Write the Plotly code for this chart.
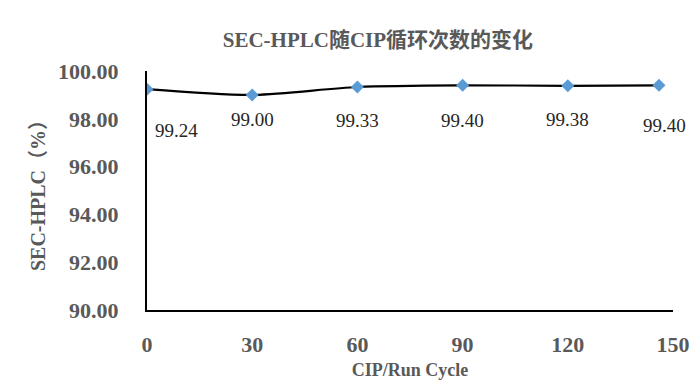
import plotly.graph_objects as go

cycles = [0, 30, 60, 90, 120, 146]
sec_hplc = [99.24, 99.00, 99.33, 99.40, 99.38, 99.40]
labels = ["99.24", "99.00", "99.33", "99.40", "99.38", "99.40"]
x_ticks = [0, 30, 60, 90, 120, 150]
y_ticks = [90, 92, 94, 96, 98, 100]

serif = "Liberation Serif"
title_font = "Liberation Serif, Noto Sans CJK SC"
gray = "#595959"

fig = go.Figure()
fig.add_trace(go.Scatter(
    x=cycles, y=sec_hplc, mode="lines+markers",
    line=dict(color="black", width=2.2, shape="spline", smoothing=0.8),
    marker=dict(symbol="diamond", size=10, color="#5B9BD5"),
    hoverinfo="skip", showlegend=False,
))

# label offsets (pixels) relative to each point, as placed in the original
label_dx = [29, 0, 0, 0, 0, 6]
label_dy = [-41, -25, -33, -35, -34, -40]
for xv, yv, t, dx, dy in zip(cycles, sec_hplc, labels, label_dx, label_dy):
    fig.add_annotation(x=xv, y=yv, text=t, showarrow=False,
                       xshift=dx, yshift=dy,
                       font=dict(family=serif, size=19, color="#262626"))

fig.update_layout(
    width=698, height=387,
    margin=dict(l=139, r=33, t=63, b=85, autoexpand=False),
    paper_bgcolor="white", plot_bgcolor="white",
    title=dict(text="<b>SEC-HPLC随CIP循环次数的变化</b>", x=0.53, xanchor="center",
               y=0.917, yanchor="middle",
               font=dict(family=title_font, size=21, color=gray)),
    xaxis=dict(range=[0, 150], tickvals=x_ticks, ticktext=[str(v) for v in x_ticks],
               automargin=False,
               showgrid=False, zeroline=False, showline=True, linecolor="black", linewidth=2.2,
               ticks="", ticklabelstandoff=13,
               tickfont=dict(family=serif, size=22, color=gray, weight="bold"),
               title=dict(text="<b>CIP/Run Cycle</b>", standoff=8,
                          font=dict(family=serif, size=18, color=gray))),
    yaxis=dict(range=[90, 100], tickvals=y_ticks, ticktext=[f"{v:.2f}" for v in y_ticks],
               automargin=False,
               showgrid=False, zeroline=False, showline=True, linecolor="black", linewidth=2.2,
               ticks="", ticklabelstandoff=22,
               tickfont=dict(family=serif, size=22, color=gray, weight="bold"),
               title=dict(text="<b>SEC-HPLC（%）</b>", standoff=7,
                          font=dict(family=title_font, size=20, color=gray))),
)

fig.add_shape(type="line", xref="paper", yref="paper", x0=-0.27, x1=1.07, y0=-0.347, y1=-0.347,
              line=dict(color="#D9D9D9", width=1.5))

fig.write_html("out.html")
